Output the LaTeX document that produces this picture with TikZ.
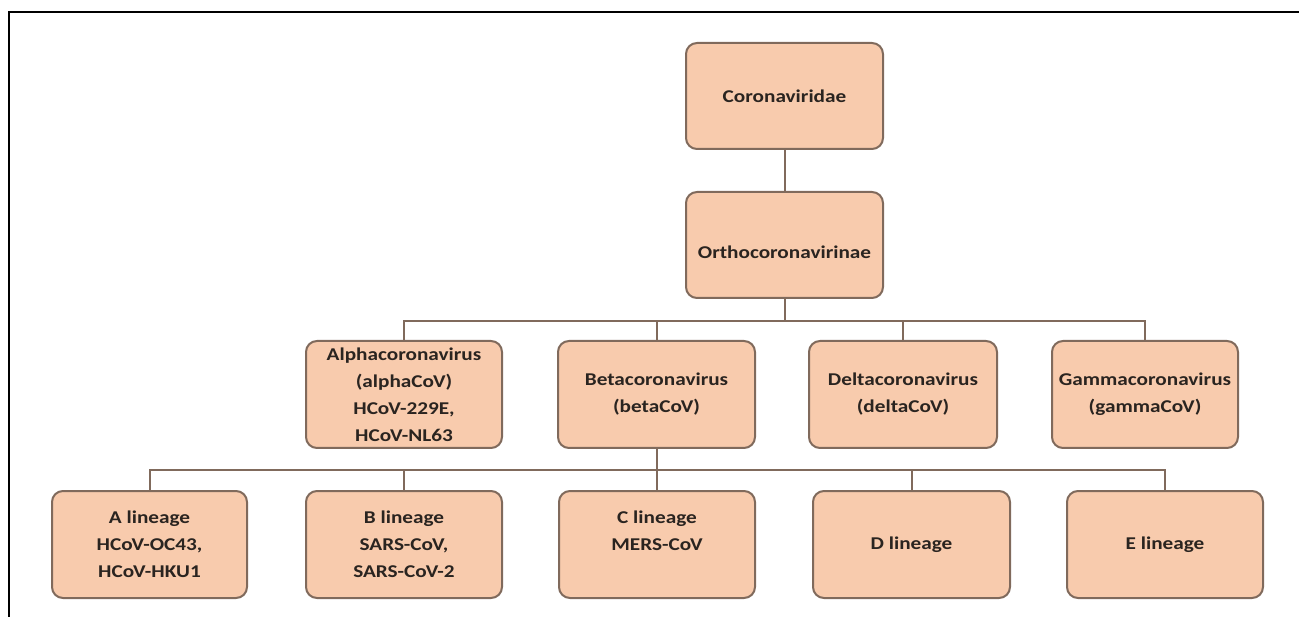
\documentclass[tikz,border=0pt]{standalone}
\usepackage{fontspec}
\setmainfont{Carlito}[FakeStretch=1.18]
\usepackage{xcolor}
\usepackage{tikz}
\usetikzlibrary{positioning}
\definecolor{peach}{HTML}{F8CBAD}
\definecolor{rim}{HTML}{806A5C}
\definecolor{ink}{HTML}{2A2420}

\begin{document}
\begin{tikzpicture}[x=1pt,y=-1pt,
    taxon/.style={draw=rim, fill=peach, line width=2pt, rounded corners=11pt,
      minimum height=107pt, align=center, text=ink,
      font=\fontsize{18}{27}\selectfont\bfseries},
    link/.style={draw=rim, line width=2pt}]
    \useasboundingbox (0,0) rectangle (1299,617);
    % Frame (top and left edges only)
    \draw[line width=1.6pt] (1299,12) -- (9,12) -- (9,617);
    % Family and subfamily
    \node[taxon, minimum width=197pt, minimum height=106pt] (fam) at (784.5,96) {Coronaviridae};
    \node[taxon, minimum width=197pt, minimum height=106pt] (sub) at (784.5,245) {\mbox{}\\Orthocoronavirinae};
    % Genera
    \node[taxon, minimum width=196pt] (alpha) at (404,394.5)
      {Alphacoronavirus\\(alphaCoV)\\HCoV-229E,\\HCoV-NL63};
    \node[taxon, minimum width=197pt] (beta) at (656.5,394.5)
      {Betacoronavirus\\(betaCoV)};
    \node[taxon, minimum width=188pt] (delta) at (903,394.5)
      {Deltacoronavirus\\(deltaCoV)};
    \node[taxon, minimum width=186pt] (gamma) at (1145,394.5)
      {Gammacoronavirus\\(gammaCoV)};
    % Lineages of betaCoV
    \node[taxon, minimum width=195pt] (linA) at (149.5,544.5)
      {A lineage\\HCoV-OC43,\\HCoV-HKU1};
    \node[taxon, minimum width=196pt] (linB) at (404,544.5)
      {B lineage\\SARS-CoV,\\SARS-CoV-2};
    \node[taxon, minimum width=196pt] (linC) at (657,544.5)
      {C lineage\\MERS-CoV\\\mbox{}};
    \node[taxon, minimum width=197pt] (linD) at (911.5,544.5) {D lineage};
    \node[taxon, minimum width=196pt] (linE) at (1165,544.5) {E lineage};
    % Connectors
    \draw[link] (fam) -- (sub);
    \draw[link] (sub.south) -- ++(0,22) coordinate (busG);
    \foreach \g in {alpha,beta,delta,gamma}
      \draw[link] (\g.north) |- (busG);
    \draw[link] (beta.south) -- ++(0,21) coordinate (busL);
    \foreach \l in {linA,linB,linC,linD,linE}
      \draw[link] (\l.north) |- (busL);
\end{tikzpicture}
\end{document}
